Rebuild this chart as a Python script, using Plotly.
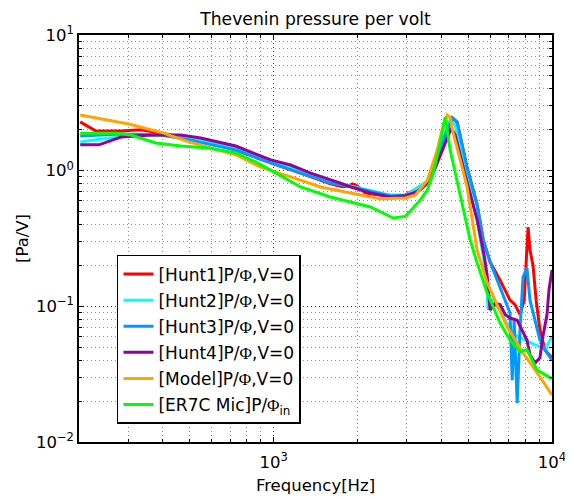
import plotly.graph_objects as go

# ---- data (frequency in Hz, Thevenin pressure per volt in Pa/V) ----
model_f = [202, 302, 400, 496, 731, 898, 1151, 1474, 1888, 2420, 2973, 3228, 3566, 3873, 4066, 4204,
           4308, 4416, 4680, 4951, 5384, 5848, 6902, 7873, 9051, 10000]
model_v = [2.57, 2.21, 1.90, 1.63, 1.31, 1.06, 0.90, 0.758, 0.685, 0.62, 0.63, 0.66, 0.85, 1.42, 2.17, 2.57,
           2.45, 1.90, 1.20, 0.76, 0.26, 0.149, 0.0706, 0.0454, 0.0302, 0.0222]

mic_f = [202, 272, 307, 378, 464, 585, 731, 862, 976, 1104, 1250, 1600, 1888, 2228, 2690, 2973, 3365,
         3566, 3743, 3969, 4133, 4308, 4680, 5082, 5384, 5848, 6509, 7068, 7675, 8128, 8832, 10000]
mic_v = [1.89, 1.89, 1.83, 1.60, 1.52, 1.47, 1.35, 1.16, 1.01, 0.88, 0.758, 0.64, 0.588, 0.54, 0.448, 0.46,
         0.608, 0.72, 0.96, 1.60, 2.49, 1.42, 0.662, 0.309, 0.209, 0.126, 0.0754, 0.0565, 0.0462, 0.048,
         0.034, 0.0292]

hunt3_f = [202, 283, 393, 504, 731, 976, 1250, 1600, 1888, 2228, 2627, 2973, 3228, 3566, 3873, 4133, 4385,
           4563, 4951, 5384, 5662, 5994, 6509, 7068, 7195, 7311, 7497, 7675, 7873, 8128, 8335, 8690, 9051,
           9437, 10000]
hunt3_v = [1.80, 1.86, 1.83, 1.68, 1.42, 1.14, 0.96, 0.81, 0.76, 0.70, 0.65, 0.66, 0.685, 0.82, 1.20, 1.83,
           2.45, 2.28, 1.06, 0.559, 0.309, 0.212, 0.139, 0.0893, 0.0286, 0.079, 0.0194, 0.067, 0.164, 0.192,
           0.111, 0.079, 0.0565, 0.0477, 0.0402]

hunt2_f = [202, 240, 307, 427, 547, 731, 976, 1250, 1600, 1888, 2228, 2627, 2973, 3566, 3873, 4133, 4308,
           4490, 4880, 5384, 5770, 5899, 6094, 6509, 7068, 7195, 7431, 8000, 8690, 9437, 10000]
hunt2_v = [1.63, 1.71, 1.80, 1.83, 1.68, 1.47, 1.20, 1.01, 0.85, 0.77, 0.71, 0.66, 0.65, 0.84, 1.24, 1.90,
           2.36, 2.17, 1.01, 0.433, 0.185, 0.094, 0.111, 0.094, 0.067, 0.044, 0.061, 0.0565, 0.052, 0.049,
           0.0594]

hunt1_f = [202, 230, 283, 334, 410, 547, 731, 976, 1250, 1600, 1766, 1856, 1918, 2000, 2137, 2420, 2973,
           3566, 3873, 4133, 4385, 4563, 4951, 5384, 5662, 5994, 6509, 7068, 7360, 7675, 7943, 8071, 8203,
           8335, 8549, 8770, 9051, 9437, 10000]
hunt1_v = [2.29, 1.96, 1.96, 2.00, 1.86, 1.68, 1.42, 1.14, 0.96, 0.80, 0.76, 0.77, 0.80, 0.77, 0.685, 0.662,
           0.66, 0.82, 1.20, 1.83, 2.45, 2.28, 1.06, 0.559, 0.309, 0.212, 0.156, 0.111, 0.103, 0.087, 0.111,
           0.22, 0.384, 0.26, 0.20, 0.111, 0.067, 0.0477, 0.0418]

hunt4_f = [202, 236, 283, 362, 464, 547, 731, 827, 976, 1151, 1358, 1738, 1888, 2228, 2627, 2973, 3365,
           3654, 3969, 4204, 4349, 4490, 4874, 5384, 5706, 5848, 5994, 6252, 6509, 6791, 7068, 7497, 7800,
           8128, 8335, 8690, 9051, 9290, 9596, 9753, 10000]
hunt4_v = [1.55, 1.55, 1.77, 1.83, 1.83, 1.74, 1.52, 1.37, 1.20, 1.10, 0.96, 0.81, 0.76, 0.685, 0.64, 0.65,
           0.72, 0.85, 1.31, 1.77, 2.06, 1.83, 0.93, 0.433, 0.238, 0.170, 0.094, 0.105, 0.103, 0.087, 0.082,
           0.079, 0.067, 0.0565, 0.0439, 0.0382, 0.0418, 0.0611, 0.087, 0.132, 0.185]

PHI = "<span style='font-family:Liberation Serif'>Φ</span>"
series_names = [
    "[Hunt1]P/" + PHI + ",V=0",
    "[Hunt2]P/" + PHI + ",V=0",
    "[Hunt3]P/" + PHI + ",V=0",
    "[Hunt4]P/" + PHI + ",V=0",
    "[Model]P/" + PHI + ",V=0",
    "[ER7C Mic]P/" + PHI + "<sub>in</sub>",
]
series_f = [hunt1_f, hunt2_f, hunt3_f, hunt4_f, model_f, mic_f]
series_v = [hunt1_v, hunt2_v, hunt3_v, hunt4_v, model_v, mic_v]
series_colors = ["#ff0000", "#00ffff", "#0099ff", "#990099", "#ffa500", "#00ff00"]

x_tickvals = [1e3, 1e4]
x_ticktext = ["10<sup>3</sup>", "10<sup>4</sup>"]
y_tickvals = [1e-2, 1e-1, 1e0, 1e1]
y_ticktext = ["10<sup>−2</sup>", "10<sup>−1</sup>", "10<sup>0</sup>", "10<sup>1</sup>"]

fig = go.Figure()
for i, (name, f, v, c) in enumerate(zip(series_names, series_f, series_v, series_colors)):
    fig.add_trace(go.Scatter(x=f, y=v, mode="lines", name=name, legendgroup="g%d" % i,
                             line=dict(color=c, width=3)))

FONT = "DejaVu Sans, Arial, sans-serif"
grid = dict(showgrid=True, gridcolor="rgba(0,0,0,0.55)", griddash="1px,3px", gridwidth=1)
axis_common = dict(type="log", showline=True, linecolor="black", linewidth=1.5, mirror="ticks",
                   ticks="inside", ticklen=5, tickcolor="black", zeroline=False, automargin=False,
                   tickfont=dict(family=FONT, size=16.5, color="black"),
                   tickmode="array", **grid)
minor = dict(ticks="inside", ticklen=3, tickcolor="black", showgrid=True, dtick="D1",
             gridcolor="rgba(0,0,0,0.45)", griddash="1px,3px", gridwidth=1)

fig.update_xaxes(range=[2.30103, 4], tickvals=x_tickvals, ticktext=x_ticktext, minor=minor,
                 ticklabelstandoff=4,
                 title=dict(text="Frequency[Hz]", font=dict(family=FONT, size=16.5, color="black"), standoff=9),
                 **axis_common)
fig.update_yaxes(range=[-2, 1], tickvals=y_tickvals, ticktext=y_ticktext, minor=minor,
                 title=dict(text="[Pa/V]", font=dict(family=FONT, size=16.5, color="black"), standoff=3),
                 **axis_common)

fig.update_layout(
    width=565, height=489,
    margin=dict(l=71, r=21, t=27, b=55, autoexpand=False),
    paper_bgcolor="white", plot_bgcolor="white",
    title=dict(text="Thevenin pressure per volt", x=0.5, xref="paper", y=0.978, yanchor="middle",
               automargin=False, font=dict(family=FONT, size=17.2, color="black")),
    showlegend=True,
    legend=dict(x=0.0803, y=0.4595, xanchor="left", yanchor="top", bgcolor="white",
                bordercolor="black", borderwidth=1.5, tracegroupgap=1,
                font=dict(family=FONT, size=17, color="black")),
)

fig.write_html("out.html")
